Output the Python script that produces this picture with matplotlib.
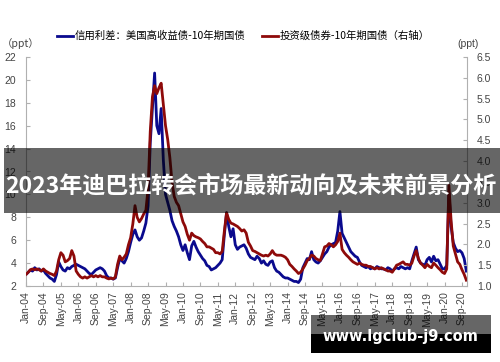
import numpy as np
import matplotlib
matplotlib.use("Agg")
import matplotlib.pyplot as plt
from matplotlib.patches import Rectangle

plt.rcParams['font.family'] = ['Liberation Sans', 'Noto Sans CJK SC', 'DejaVu Sans']

# High-yield minus 10Y treasury spread (left axis, ppt), monthly Jan-2004 .. Nov-2020
hy_spread = [
    3.0, 3.2, 3.4, 3.3, 3.6, 3.4, 3.5, 3.3, 3.4, 3.1, 2.9, 2.7,
    2.6, 2.4, 3.0, 4.1, 3.7, 3.4, 3.3, 3.6, 3.5, 3.7, 3.8, 3.9,
    3.8, 3.7, 3.6, 3.5, 3.3, 3.1, 3.0, 3.2, 3.4, 3.5, 3.6, 3.5,
    3.3, 2.9, 2.7, 2.7, 2.6, 2.7, 3.6, 4.4, 4.2, 4.0, 4.4, 5.0,
    5.8, 6.5, 6.9, 6.3, 6.0, 6.2, 6.8, 7.5, 9.0, 14.5, 17.5, 20.6,
    16.0, 15.3, 17.5, 13.0, 10.0, 9.3, 8.6, 7.7, 7.2, 6.8, 6.3, 5.6,
    5.1, 5.6, 4.9, 4.3, 5.5, 5.9, 5.4, 5.0, 4.7, 4.4, 4.2, 3.8,
    3.7, 3.4, 3.5, 3.6, 3.8, 4.0, 4.3, 6.5, 8.4, 7.2, 6.3, 7.0,
    5.6, 5.2, 5.4, 5.5, 5.6, 5.3, 4.8, 4.5, 4.4, 4.3, 4.6, 4.4,
    4.0, 4.2, 3.9, 3.8, 4.1, 4.2, 3.6, 3.3, 3.2, 3.0, 2.8, 2.7,
    2.7, 2.6, 2.5, 2.4, 2.4, 2.3, 2.6, 3.6, 4.0, 4.4, 4.3, 5.0,
    4.3, 4.1, 4.0, 4.2, 4.5, 4.8, 5.0, 5.4, 5.6, 5.7, 5.8, 6.8,
    8.5, 6.6, 6.2, 5.8, 5.4, 5.0, 4.8, 4.6, 4.5, 4.1, 3.8, 3.7,
    3.6, 3.7, 3.5, 3.6, 3.5, 3.7, 3.6, 3.5, 3.5, 3.4, 3.6, 3.5,
    3.3, 3.5, 3.6, 3.5, 3.7, 3.6, 3.5, 3.6, 3.5, 4.2, 4.8, 5.4,
    4.3, 4.0, 3.9, 3.8, 4.3, 4.5, 4.1, 4.6, 4.2, 4.3, 3.9, 3.5,
    3.5, 3.8, 10.2, 7.2, 5.8, 5.3, 5.0, 5.1, 4.9, 4.4, 3.3,
]

# Investment-grade minus 10Y treasury spread (right axis, ppt)
ig_spread = [
    1.28, 1.33, 1.39, 1.41, 1.39, 1.41, 1.39, 1.36, 1.41, 1.36, 1.33, 1.30,
    1.28, 1.25, 1.36, 1.63, 1.80, 1.74, 1.58, 1.61, 1.66, 1.85, 1.72, 1.36,
    1.28, 1.22, 1.19, 1.22, 1.19, 1.22, 1.25, 1.22, 1.25, 1.22, 1.25, 1.22,
    1.22, 1.19, 1.17, 1.19, 1.17, 1.22, 1.52, 1.72, 1.63, 1.69, 1.77, 1.99,
    2.16, 2.49, 2.93, 2.65, 2.54, 2.62, 2.73, 2.82, 3.34, 4.71, 5.54, 5.81,
    5.62, 5.76, 5.87, 5.35, 4.85, 4.52, 4.08, 3.48, 3.15, 3.01, 2.93, 2.73,
    2.54, 2.43, 2.24, 2.10, 2.27, 2.21, 2.18, 2.16, 2.13, 2.07, 2.02, 1.94,
    1.94, 1.91, 1.88, 1.80, 1.80, 1.77, 1.83, 2.32, 2.76, 2.60, 2.51, 2.49,
    2.46, 2.43, 2.38, 2.32, 2.35, 2.27, 2.05, 1.96, 1.85, 1.83, 1.80, 1.77,
    1.74, 1.72, 1.74, 1.72, 1.77, 1.85, 1.77, 1.74, 1.74, 1.74, 1.72, 1.69,
    1.63, 1.52, 1.47, 1.41, 1.36, 1.30, 1.33, 1.41, 1.50, 1.61, 1.66, 1.74,
    1.72, 1.66, 1.63, 1.61, 1.77, 1.94, 1.96, 2.02, 1.99, 1.94, 1.99, 2.07,
    2.27, 1.88, 1.80, 1.74, 1.69, 1.63, 1.58, 1.55, 1.52, 1.55, 1.52, 1.50,
    1.50, 1.47, 1.47, 1.44, 1.41, 1.44, 1.41, 1.44, 1.41, 1.39, 1.36, 1.36,
    1.33, 1.41, 1.50, 1.52, 1.55, 1.58, 1.52, 1.52, 1.50, 1.55, 1.72, 1.85,
    1.66, 1.55, 1.50, 1.44, 1.52, 1.47, 1.44, 1.55, 1.50, 1.44, 1.39, 1.33,
    1.30, 1.41, 3.42, 2.57, 1.96, 1.77, 1.58, 1.52, 1.39, 1.28, 1.14,
]

tick_labels = [
    "Jan-04", "Sep-04", "May-05", "Jan-06", "Sep-06", "May-07", "Jan-08",
    "Sep-08", "May-09", "Jan-10", "Sep-10", "May-11", "Jan-12", "Sep-12",
    "May-13", "Jan-14", "Sep-14", "May-15", "Jan-16", "Sep-16", "May-17",
    "Jan-18", "Sep-18", "May-19", "Jan-20", "Sep-20",
]
left_ticks = [2, 4, 6, 8, 10, 12, 14, 16, 18, 20, 22]
right_ticks = [1.0, 1.5, 2.0, 2.5, 3.0, 3.5, 4.0, 4.5, 5.0, 5.5, 6.0, 6.5]

label_hy = "信用利差：美国高收益债-10年期国债"
label_ig = "投资级债券-10年期国债（右轴）"
title = "2023年迪巴拉转会市场最新动向及未来前景分析"
watermark = "www.lgclub-j9.com"

W, H = 500, 362
fig = plt.figure(figsize=(W / 100, H / 100), dpi=100)
ax = fig.add_axes([26 / W, 1 - 286 / H, (467 - 26) / W, (286 - 57) / H])
ax2 = ax.twinx()

x = np.arange(len(hy_spread))
blue, = ax.plot(x, hy_spread, color="#0a0a8e", lw=2.0, label=label_hy)
red, = ax2.plot(x, ig_spread, color="#8e0a0a", lw=2.0, label=label_ig)

ax.set_xlim(0, 202.3)
ax.set_ylim(2, 22)
ax2.set_ylim(1.0, 6.5)

spine_c = "#b0b0b0"
tick_c = "#444444"
for a in (ax, ax2):
    a.spines['top'].set_visible(False)
    for s in ('left', 'right', 'bottom'):
        a.spines[s].set_color(spine_c)
        a.spines[s].set_linewidth(0.8)
ax.spines['right'].set_visible(False)
ax2.spines['left'].set_visible(False)
ax2.spines['bottom'].set_visible(False)

ax.set_xticks(np.arange(len(tick_labels)) * 8)
ax.set_xticklabels(tick_labels, rotation=90, fontsize=7.5, color=tick_c)
ax.set_yticks(left_ticks)
ax.set_yticklabels([str(t) for t in left_ticks], fontsize=7.5, color=tick_c)
ax2.set_yticks(right_ticks)
ax2.set_yticklabels([f"{t:.1f}" for t in right_ticks], fontsize=7.5, color=tick_c)
ax.tick_params(axis='x', direction='in', length=3, color=spine_c, pad=4)
ax.tick_params(axis='y', direction='in', length=3, color=spine_c, pad=7)
ax2.tick_params(axis='y', direction='in', length=3, color=spine_c, pad=7)

fig.text(21 / W, 1 - 44 / H, "（ppt）", fontsize=7.5, color=tick_c,
         ha='center', va='center', family=['Noto Sans CJK SC', 'DejaVu Sans'])
fig.text(468 / W, 1 - 44 / H, "(ppt)", fontsize=7.5, color=tick_c,
         ha='center', va='center')

fig.legend(handles=[blue, red], loc='center left',
           bbox_to_anchor=(57 / W, 1 - 36 / H), ncol=2, frameon=False,
           prop={'family': ['Noto Sans CJK SC', 'DejaVu Sans'], 'size': 7.5},
           handlelength=1.5, handletextpad=0.2, columnspacing=1.6,
           borderpad=0, borderaxespad=0)

# overlays
fig.patches.append(Rectangle((4 / W, 1 - 213 / H), 496 / W, 65 / H,
                             transform=fig.transFigure, facecolor='black',
                             alpha=0.6, edgecolor='none', zorder=10))
fig.text(251 / W, 1 - 186 / H, title, color='white', fontsize=16.6,
         fontweight='bold', ha='center', va='center', zorder=11,
         family=['Noto Sans CJK SC', 'DejaVu Sans'])

fig.patches.append(Rectangle((311 / W, 1 - 334 / H), 180 / W, 19 / H,
                             transform=fig.transFigure, facecolor='black',
                             alpha=0.6, edgecolor='none', zorder=10))
fig.patches.append(Rectangle((311 / W, 1 - 353 / H), 180 / W, 19 / H,
                             transform=fig.transFigure, facecolor='black',
                             edgecolor='none', zorder=10))
fig.text(400 / W, 1 - 337 / H, watermark, color='white', fontsize=10.5,
         fontweight='bold', ha='center', va='center', zorder=11,
         family='DejaVu Sans')

fig.savefig("out.png", dpi=100)
